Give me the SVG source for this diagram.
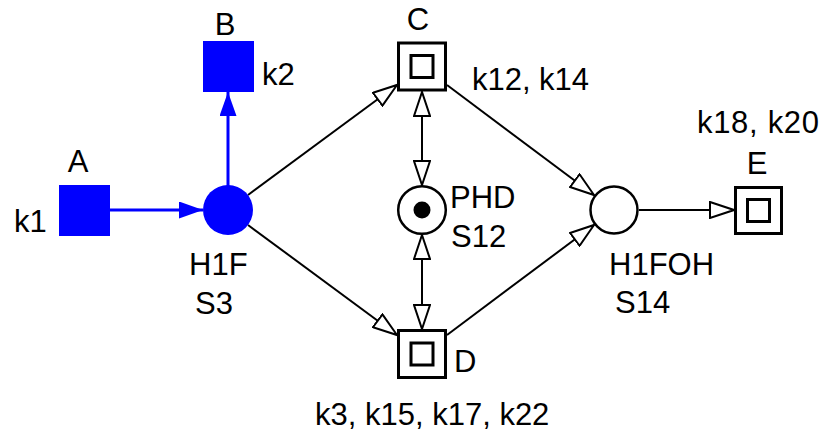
<svg xmlns="http://www.w3.org/2000/svg" width="822" height="435" viewBox="0 0 822 435">
<style>
  text { font-family: "Liberation Sans", Arial, sans-serif; font-size: 31px; fill: #000; }
  .blue { fill: #0000ff; }
  .edge { stroke: #000; stroke-width: 2; fill: none; }
  .bedge { stroke: #0000ff; stroke-width: 3; fill: none; }
  .box { fill: #fff; stroke: #000; stroke-width: 3; }
  .place { fill: #fff; stroke: #000; stroke-width: 2.5; }
</style>
<defs>
  <marker id="open" markerUnits="userSpaceOnUse" viewBox="0 0 27 18" refX="25" refY="9" markerWidth="27" markerHeight="18" orient="auto-start-reverse">
    <path d="M1,1 L25,9 L1,17 Z" fill="#fff" stroke="#000" stroke-width="2" stroke-linejoin="miter"/>
  </marker>
  <marker id="blueArrow" markerUnits="userSpaceOnUse" viewBox="0 0 24 17" refX="24" refY="8.5" markerWidth="24" markerHeight="17" orient="auto">
    <path d="M0,0 L24,8.5 L0,17 Z" fill="#0000ff"/>
  </marker>
</defs>

<g id="connectors">
  <line class="bedge" x1="109" y1="210" x2="203" y2="210" marker-end="url(#blueArrow)"/>
  <line class="bedge" x1="228" y1="186" x2="228" y2="92" marker-end="url(#blueArrow)"/>
  <line class="edge" x1="248" y1="195" x2="397" y2="85" marker-end="url(#open)"/>
  <line class="edge" x1="248" y1="225" x2="397" y2="335" marker-end="url(#open)"/>
  <line class="edge" x1="447" y1="85" x2="594" y2="195" marker-end="url(#open)"/>
  <line class="edge" x1="447" y1="335" x2="594" y2="225" marker-end="url(#open)"/>
  <line class="edge" x1="639" y1="210" x2="734" y2="210" marker-end="url(#open)"/>
  <line class="edge" x1="422" y1="92" x2="422" y2="185" marker-start="url(#open)" marker-end="url(#open)"/>
  <line class="edge" x1="422" y1="235" x2="422" y2="329" marker-start="url(#open)" marker-end="url(#open)"/>
</g>

<g id="node-A">
  <rect class="blue" x="59" y="185" width="51" height="51"/>
  <text x="78" y="172" text-anchor="middle">A</text>
  <text x="14" y="232">k1</text>
</g>

<g id="node-B">
  <rect class="blue" x="203" y="41" width="51" height="51"/>
  <text x="225" y="35" text-anchor="middle">B</text>
  <text x="262" y="85">k2</text>
</g>

<g id="node-H1F">
  <circle class="blue" cx="228" cy="210" r="25"/>
  <text x="189" y="275">H1F</text>
  <text x="195" y="314">S3</text>
</g>

<g id="node-C">
  <rect class="box" x="398.5" y="43" width="47" height="47"/>
  <rect class="box" x="411" y="55.5" width="22" height="22"/>
  <text x="418" y="30" text-anchor="middle">C</text>
  <text x="472" y="90" textLength="117" lengthAdjust="spacing">k12, k14</text>
</g>

<g id="node-PHD">
  <circle class="place" cx="422" cy="210" r="23.8"/>
  <circle cx="422" cy="210" r="8.5" fill="#000"/>
  <text x="450" y="208">PHD</text>
  <text x="451" y="247">S12</text>
</g>

<g id="node-D">
  <rect class="box" x="398.5" y="330.5" width="47" height="47"/>
  <rect class="box" x="411" y="343" width="22" height="22"/>
  <text x="454" y="372">D</text>
  <text x="315" y="425">k3, k15, k17, k22</text>
</g>

<g id="node-H1FOH">
  <circle class="place" cx="614" cy="210" r="23.5"/>
  <text x="609" y="275">H1FOH</text>
  <text x="615" y="313">S14</text>
</g>

<g id="node-E">
  <rect class="box" x="735.5" y="187.5" width="46" height="46"/>
  <rect class="box" x="747.5" y="199.5" width="22" height="22"/>
  <text x="757" y="174" text-anchor="middle">E</text>
  <text x="697" y="133" textLength="122" lengthAdjust="spacing">k18, k20</text>
</g>
</svg>
